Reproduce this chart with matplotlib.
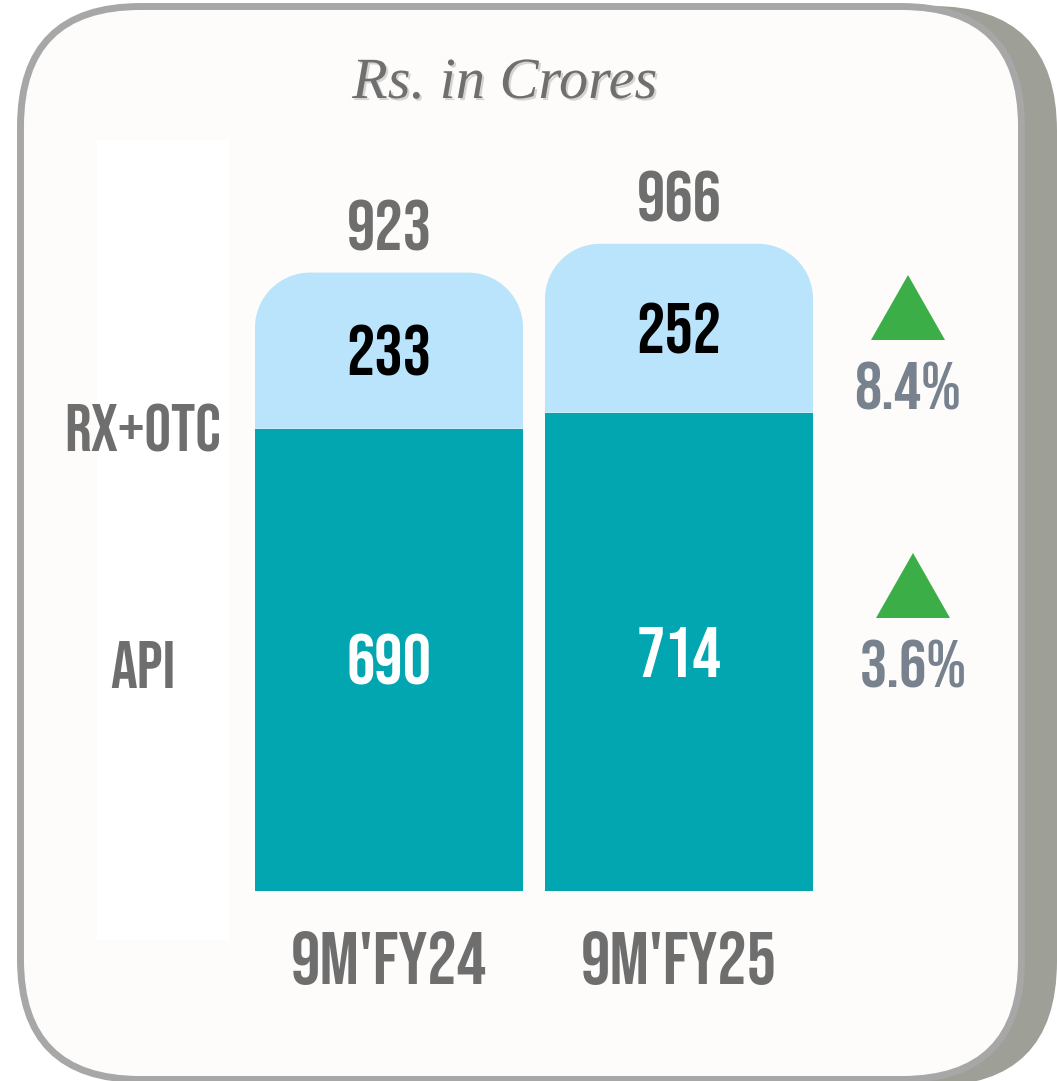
import matplotlib
matplotlib.use("Agg")
import matplotlib.pyplot as plt
import matplotlib.patheffects as pe
from matplotlib.patches import FancyBboxPatch, PathPatch, Rectangle, Polygon
from matplotlib.path import Path

# data
periods = ["9M'FY24", "9M'FY25"]
api = [690, 714]
rx_otc = [233, 252]
segments = ["RX+OTC", "API"]
growth = ["8.4%", "3.6%"]

TEAL = "#02a6b1"
LIGHT = "#b9e4fb"
GREY = "#6e6e6e"
SLATE = "#77828e"
GREEN = "#3bae48"
NARROW = ["Bebas Neue", "Oswald", "DejaVu Sans"]

W, H = 1057, 1081
fig = plt.figure(figsize=(W / 100, H / 100), dpi=100)
fig.patch.set_facecolor("white")

# card background in pixel coords
bg = fig.add_axes([0, 0, 1, 1])
bg.set_xlim(0, W)
bg.set_ylim(H, 0)
bg.axis("off")

bg.add_patch(FancyBboxPatch((49, 6), 1008, 1080, boxstyle="round,pad=0,rounding_size=125",
                            fc="#9e9f97", ec="none"))
bg.add_patch(FancyBboxPatch((20.5, 6.5), 1001, 1073, boxstyle="round,pad=0,rounding_size=120",
                            fc="#fdfcfa", ec="#a7a7a7", lw=5))
bg.add_patch(Rectangle((97, 140), 133, 800, fc="white", ec="none"))

bg.text(505, 84, "Rs. in Crores", family="Liberation Serif", style="italic", fontsize=42,
        color="#6f6f6f", ha="center", va="center",
        path_effects=[pe.SimplePatchShadow(offset=(1.5, -1.5), shadow_rgbFace="#d4d4d4", alpha=1),
                      pe.Normal()])

# segment names on the left
for name, yy in zip(segments, [428, 664]):
    bg.text(143, yy, name, family=NARROW, fontsize=48, color=GREY,
            ha="center", va="center")

# growth markers on the right
for g, (cx, ty) in zip(growth, [(908, 275), (913, 553)]):
    bg.add_patch(Polygon([(cx - 37, ty + 65), (cx + 37, ty + 65), (cx, ty)], closed=True,
                         fc=GREEN, ec="none"))
    bg.text(cx, ty + 111, g, family=NARROW, fontsize=49, color=SLATE,
            ha="center", va="center")

# bars
ax = fig.add_axes([244 / W, 190 / H, 580 / W, 670 / H])
ax.set_xlim(-0.5, 1.5)
ax.set_ylim(0, 1000)
ax.axis("off")
ax.patch.set_alpha(0)

x = [0, 1]
bw = 0.924
rx, ry = 0.19, 82
k = 0.5523

ax.bar(x, api, width=bw, color=TEAL, zorder=2)


def rounded_top(x0, x1, y0, y1):
    verts = [(x0, y0), (x0, y1 - ry),
             (x0, y1 - ry + k * ry), (x0 + rx - k * rx, y1), (x0 + rx, y1),
             (x1 - rx, y1),
             (x1 - rx + k * rx, y1), (x1, y1 - ry + k * ry), (x1, y1 - ry),
             (x1, y0), (x0, y0)]
    codes = [Path.MOVETO, Path.LINETO,
             Path.CURVE4, Path.CURVE4, Path.CURVE4,
             Path.LINETO,
             Path.CURVE4, Path.CURVE4, Path.CURVE4,
             Path.LINETO, Path.CLOSEPOLY]
    return Path(verts, codes)


for xi, a, r, lab in zip(x, api, rx_otc, periods):
    ax.add_patch(PathPatch(rounded_top(xi - bw / 2, xi + bw / 2, a, a + r),
                           fc=LIGHT, ec="none", zorder=2))
    ax.text(xi, a / 2, str(a), family=NARROW, fontsize=51, color="white",
            ha="center", va="center", zorder=3)
    ax.text(xi, a + r / 2, str(r), family=NARROW, fontsize=51, color="black",
            ha="center", va="center", zorder=3)
    ax.annotate(str(a + r), (xi, a + r), xytext=(0, 47), textcoords="offset pixels",
                family=NARROW, fontsize=51, color=GREY,
                ha="center", va="center", annotation_clip=False)
    ax.annotate(lab, (xi, 0), xytext=(0, -67), textcoords="offset pixels",
                family=NARROW, fontsize=53, color=GREY,
                ha="center", va="center", annotation_clip=False)

fig.savefig("out.png", dpi=100, facecolor=fig.get_facecolor())
